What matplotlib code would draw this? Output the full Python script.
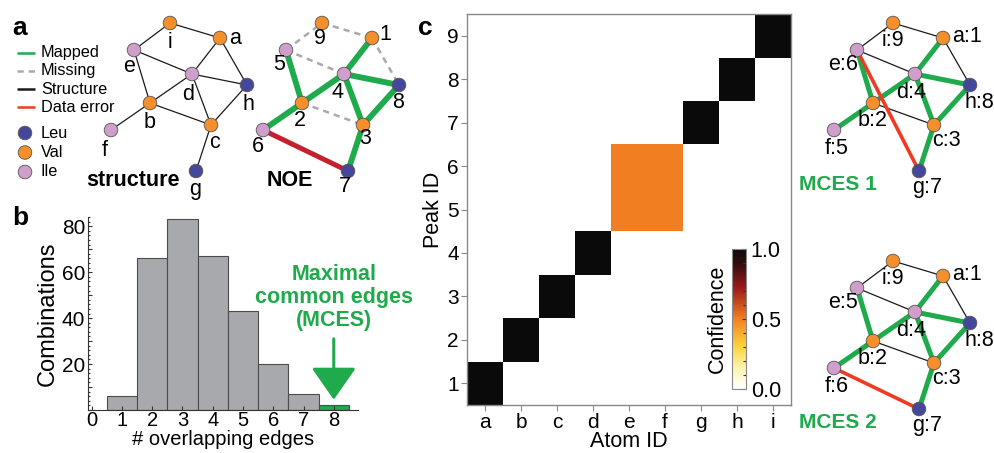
import numpy as np
import matplotlib
matplotlib.use("Agg")
import matplotlib.pyplot as plt
from matplotlib.patches import Circle
from matplotlib.colors import LinearSegmentedColormap
from matplotlib.ticker import MultipleLocator, FuncFormatter

plt.rcParams['font.family'] = ['Liberation Sans', 'DejaVu Sans']

# atoms, residue types and structure graph
atoms = ['a', 'b', 'c', 'd', 'e', 'f', 'g', 'h', 'i']
residue = {'a': 'Val', 'b': 'Val', 'c': 'Val', 'd': 'Ile', 'e': 'Ile',
           'f': 'Ile', 'g': 'Leu', 'h': 'Leu', 'i': 'Val'}
structure_edges = [('i', 'a'), ('i', 'e'), ('a', 'd'), ('a', 'h'), ('e', 'd'), ('e', 'b'),
                   ('d', 'h'), ('d', 'b'), ('d', 'c'), ('b', 'c'), ('b', 'f'), ('c', 'h'), ('c', 'g')]
# graph layout (pixels) shared by every network drawing
layout = {'a': (220, 38), 'b': (150, 103), 'c': (211, 125), 'd': (192, 74), 'e': (134, 50),
          'f': (111, 130), 'g': (196, 171), 'h': (247, 85), 'i': (170, 23)}
label_off = {'i': (0, 19, 'center'), 'a': (9, 0, 'left'), 'e': (1, 17, 'right'),
             'd': (-4, 21, 'center'), 'h': (-5, 20, 'left'), 'b': (0, 20, 'center'),
             'c': (-2, 17, 'left'), 'f': (-9, 20, 'left'), 'g': (-7, 18, 'left')}

# NOE peaks (peak -> true atom) and NOE edges
true_atom = {1: 'a', 2: 'b', 3: 'c', 4: 'd', 5: 'e', 6: 'f', 7: 'g', 8: 'h', 9: 'i'}
noe_mapped = [(5, 2), (2, 4), (4, 1), (4, 8), (4, 3), (8, 3), (2, 6), (3, 7)]
noe_missing = [(5, 9), (9, 1), (1, 8), (5, 4), (2, 3)]
noe_error = [(6, 7)]

# the two MCES solutions (atom -> peak)
mces1 = {'a': 1, 'b': 2, 'c': 3, 'd': 4, 'e': 6, 'f': 5, 'g': 7, 'h': 8, 'i': 9}
mces2 = {'a': 1, 'b': 2, 'c': 3, 'd': 4, 'e': 5, 'f': 6, 'g': 7, 'h': 8, 'i': 9}

# histogram b
overlap = [1, 2, 3, 4, 5, 6, 7, 8]
combinations = [6, 66, 83, 67, 43, 20, 7, 2]

res_color = {'Leu': '#45479B', 'Val': '#F58F2C', 'Ile': '#CF9ECB'}
green = '#1FAA4B'
gray_bar = '#A7A9AC'

fig = plt.figure(figsize=(9.95, 4.53), dpi=100)
W, H = 995, 453


def px_axes(l, t, r, b):
    return fig.add_axes([l / W, (H - b) / H, (r - l) / W, (b - t) / H])


# ---- b: histogram
ax_b = px_axes(88, 217, 358, 410)
bar_colors = [green if n == max(overlap) else gray_bar for n in overlap]
ax_b.bar(overlap, combinations, width=1, color=bar_colors, edgecolor='#4D4D4D', linewidth=0.8)
ax_b.set_xlim(-0.12, 8.8)
ax_b.set_ylim(0, 84)
ax_b.set_xticks(range(0, 9))
ax_b.yaxis.set_major_locator(MultipleLocator(10))
ax_b.yaxis.set_minor_locator(MultipleLocator(2))
ax_b.yaxis.set_major_formatter(FuncFormatter(lambda v, p: '%d' % v if v > 0 and v % 20 == 0 else ''))
ax_b.tick_params(direction='in', labelsize=15, length=3, width=0.8, color='#333333', pad=2)
ax_b.tick_params(axis='x', pad=0.5, labelsize=14.5)
ax_b.tick_params(axis='y', which='minor', direction='in', length=1.5, width=0.8, color='#333333')
for s in ['top', 'right']:
    ax_b.spines[s].set_visible(False)
for s in ['left', 'bottom']:
    ax_b.spines[s].set_color('#333333')
    ax_b.spines[s].set_linewidth(0.8)
ax_b.set_xlabel('# overlapping edges', fontsize=14.5, labelpad=0.5)
ax_b.set_ylabel('Combinations', fontsize=17, labelpad=2)
ax_b.annotate('', xy=(8, 4.5), xytext=(8, 31),
              arrowprops=dict(arrowstyle='-|>,head_width=0.7,head_length=1.0', color=green,
                              lw=2.2, mutation_scale=20, shrinkA=0, shrinkB=0))
ax_b.text(8, 49, 'Maximal\ncommon edges\n(MCES)', ha='center', va='center', color=green,
          fontsize=15.5, fontweight='bold', linespacing=1.15)

# ---- c: confidence heatmap from the MCES solutions
solutions = [mces1, mces2]
conf = np.zeros((9, 9))
for sol in solutions:
    for j, at in enumerate(atoms):
        conf[sol[at] - 1, j] += 1.0 / len(solutions)

cmap = LinearSegmentedColormap.from_list('conf', [(0, '#FFFFFF'), (0.15, '#FEF4B0'), (0.3, '#FDD53A'),
                                                  (0.5, '#F28022'), (0.72, '#9E1B1B'),
                                                  (0.88, '#3A0E0E'), (1, '#0A0A0A')])
ax_c = px_axes(467, 14, 791, 405)
im = ax_c.imshow(conf, cmap=cmap, vmin=0, vmax=1, origin='lower', aspect='auto',
                 interpolation='nearest')
ax_c.set_xticks(range(9))
ax_c.set_xticklabels(atoms)
ax_c.set_yticks(range(9))
ax_c.set_yticklabels([str(k) for k in range(1, 10)])
ax_c.tick_params(direction='out', length=4, width=0.8, color='#888888', labelsize=15, pad=2)
for s in ax_c.spines.values():
    s.set_color('#888888')
    s.set_linewidth(1)
ax_c.set_xlabel('Atom ID', fontsize=15.5, labelpad=-1)
ax_c.set_ylabel('Peak ID', fontsize=15.5, labelpad=2)

cax = px_axes(732, 249, 746, 389)
cb = fig.colorbar(im, cax=cax, ticks=[0, 0.5, 1])
cb.ax.yaxis.set_minor_locator(MultipleLocator(0.1))
cb.ax.yaxis.set_major_formatter(FuncFormatter(lambda v, p: '%.1f' % v))
cb.ax.tick_params(which='both', direction='in', color='#333333', labelsize=15.5, length=3, width=0.8)
cb.ax.tick_params(which='minor', length=2)
cb.outline.set_edgecolor('#888888')
cb.outline.set_linewidth(0.8)
cb.ax.yaxis.set_label_position('left')
cb.set_label('Confidence', fontsize=15.5, labelpad=3)

# ---- networks drawn in pixel coordinates
ax = fig.add_axes([0, 0, 1, 1])
ax.set_xlim(0, W)
ax.set_ylim(H, 0)
ax.axis('off')


def node(x, y, color):
    ax.add_patch(Circle((x, y), 6.8, facecolor=color, edgecolor='#555555', lw=0.6, zorder=5))


def edge(p, q, dx, dy, **kw):
    ax.plot([p[0] + dx, q[0] + dx], [p[1] + dy, q[1] + dy], solid_capstyle='butt', **kw)


def node_label(at, text, dx, dy):
    ox, oy, ha = label_off[at]
    x, y = layout[at]
    ax.text(x + dx + ox, y + dy + oy, text, ha=ha, va='center', fontsize=15.5, zorder=6)


# structure graph
for p, q in structure_edges:
    edge(layout[p], layout[q], 0, 0, color='#1A1A1A', lw=0.9, zorder=2)
for at in atoms:
    node(layout[at][0], layout[at][1], res_color[residue[at]])
    node_label(at, at, 0, 0)
ax.text(133, 180, 'structure', ha='center', va='center', fontsize=15.5, fontweight='bold')

# NOE graph
dx_noe = 152
for p, q in noe_missing:
    edge(layout[true_atom[p]], layout[true_atom[q]], dx_noe, 0, color='#AAAAAA', lw=1.8,
         dashes=(2.5, 2), zorder=2)
for p, q in noe_mapped:
    edge(layout[true_atom[p]], layout[true_atom[q]], dx_noe, 0, color=green, lw=4.2, zorder=3)
for p, q in noe_error:
    edge(layout[true_atom[p]], layout[true_atom[q]], dx_noe, 0, color='#C4202E', lw=3.6, zorder=3)
for pk, at in true_atom.items():
    node(layout[at][0] + dx_noe, layout[at][1], res_color[residue[at]])
    node_label(at, str(pk), dx_noe - 2, -3)
ax.text(290, 180, 'NOE', ha='center', va='center', fontsize=15.5, fontweight='bold')

# MCES graphs
observed = noe_mapped + noe_error
struct_set = set(frozenset(e) for e in structure_edges)
for sol, dx, dy, name in [(mces1, 723, 0, 'MCES 1'), (mces2, 723, 238, 'MCES 2')]:
    atom_of = {pk: at for at, pk in sol.items()}
    hits = set()
    for p, q in observed:
        pair = frozenset((atom_of[p], atom_of[q]))
        a1, a2 = atom_of[p], atom_of[q]
        if pair in struct_set:
            hits.add(pair)
            edge(layout[a1], layout[a2], dx, dy, color=green, lw=3.6, zorder=3)
        else:
            edge(layout[a1], layout[a2], dx, dy, color='#EE3B24', lw=2.6, zorder=4)
    for p, q in structure_edges:
        if frozenset((p, q)) not in hits:
            edge(layout[p], layout[q], dx, dy, color='#1A1A1A', lw=0.9, zorder=2)
    for at in atoms:
        node(layout[at][0] + dx, layout[at][1] + dy, res_color[residue[at]])
        node_label(at, '%s:%d' % (at, sol[at]), dx, dy - 2)
    ax.text(838, 185 + dy, name, ha='center', va='center', fontsize=15, fontweight='bold', color=green)

# legend for a
legend_lines = [('Mapped', dict(color=green, lw=1.8)),
                ('Missing', dict(color='#AAAAAA', lw=1.8, dashes=(2.5, 2))),
                ('Structure', dict(color='#1A1A1A', lw=1.8)),
                ('Data error', dict(color='#EE3B24', lw=1.8))]
for k, (lab, st) in enumerate(legend_lines):
    y = 53 + 18 * k
    ax.plot([17, 35], [y, y], solid_capstyle='butt', **st)
    ax.text(41, y, lab, va='center', fontsize=11.7)
for k, r in enumerate(['Leu', 'Val', 'Ile']):
    y = 133 + 19.5 * k
    node(25, y, res_color[r])
    ax.text(41, y, r, va='center', fontsize=11.7)

# panel letters
for lab, x, y in [('a', 20, 28), ('b', 20, 218), ('c', 425, 28)]:
    ax.text(x, y, lab, ha='center', va='center', fontsize=19, fontweight='bold')

fig.savefig('out.png', dpi=100)
